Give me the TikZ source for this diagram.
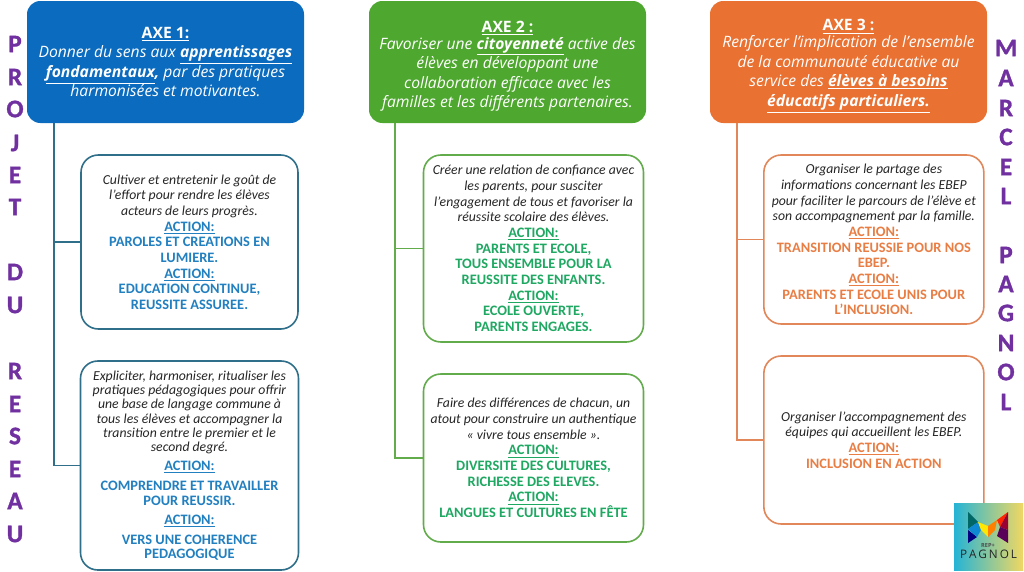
\documentclass[tikz,border=0pt]{standalone}
\usepackage{fontspec}
\setmainfont{Carlito}
\newfontfamily\axefont{Open Sans}
\newfontfamily\sidefont[FakeBold=1.2]{Carlito Bold}
\usetikzlibrary{positioning,calc}
\definecolor{axeblue}{HTML}{0B6CBF}
\definecolor{axegreen}{HTML}{4EA72E}
\definecolor{axeorange}{HTML}{E97132}
\definecolor{lineblue}{HTML}{2F6F8A}
\definecolor{linegreen}{HTML}{62AC4C}
\definecolor{lineorange}{HTML}{E2875A}
\definecolor{actblue}{HTML}{2280C0}
\definecolor{actgreen}{HTML}{1FA862}
\definecolor{actorange}{HTML}{E97E45}
\definecolor{sidepurple}{HTML}{7030A0}
\definecolor{logoleft}{HTML}{25B4D6}
\definecolor{logomid}{HTML}{8CC9A0}
\definecolor{logoright}{HTML}{F0D862}
\newcommand{\actfont}{\bfseries\fontsize{10.8}{11.75}\selectfont}
\newcommand{\actlbl}{\underline{ACTION:}}
\newcommand{\axetop}{\rule{0pt}{14.7pt}}
\begin{document}
\begin{tikzpicture}[
  x=0.75pt, y=-0.75pt,
  node distance=24pt,
  axe/.style={rounded corners=10pt, minimum width=207.75pt, minimum height=91.5pt,
    align=center, text=white, inner sep=0pt, outer sep=0pt,
    font=\axefont\fontsize{11.75}{14.6}\selectfont},
  actbox/.style={draw, line width=1.2pt, rounded corners=13pt, fill=white, align=center,
    inner sep=0pt, outer sep=0pt, text=black!85, font=\fontsize{10.3}{11.75}\selectfont},
  trunk/.style={line width=1.4pt},
  side/.style={text=sidepurple, inner sep=0pt, font=\sidefont\fontsize{19}{19}\selectfont}
]
\useasboundingbox (0,0) rectangle (1024,571);

% axe headers
\node[axe, fill=axeblue, anchor=north west] (axeA) at (27,1)
  {\textbf{\underline{AXE 1:}}\\
   \textit{Donner du sens aux \textbf{\underline{apprentissages}}}\\
   \textit{\textbf{\underline{fondamentaux},} par des pratiques}\\
   \textit{harmonisées et motivantes.}};
\node[axe, fill=axegreen, anchor=north west] (axeB) at (369,1)
  {\axetop\textbf{\underline{AXE 2 :}}\\[-2pt]
   \textit{Favoriser une \textbf{\underline{citoyenneté}} active des}\\
   \textit{élèves en développant une}\\
   \textit{collaboration efficace avec les}\\
   \textit{familles et les différents partenaires.}};
\node[axe, fill=axeorange, anchor=north west] (axeC) at (710,1)
  {\axetop\textbf{\underline{AXE 3 :}}\\[-2pt]
   \textit{Renforcer l’implication de l’ensemble}\\
   \textit{de la communauté éducative au}\\
   \textit{service des \textbf{\underline{élèves à besoins}}}\\
   \textit{\textbf{\underline{éducatifs particuliers.}}}};

% action boxes
\node[actbox, draw=lineblue, minimum width=162.75pt, minimum height=130.5pt,
  below=of axeA, xshift=18pt] (boxAa)
  {\textit{Cultiver et entretenir le goût de}\\
   \textit{l’effort pour rendre les élèves}\\
   \textit{acteurs de leurs progrès.}\\
   \color{actblue}\actfont\actlbl\\
   \color{actblue}\actfont PAROLES ET CREATIONS EN\\
   \color{actblue}\actfont LUMIERE.\\
   \color{actblue}\actfont\actlbl\\
   \color{actblue}\actfont EDUCATION CONTINUE,\\
   \color{actblue}\actfont REUSSITE ASSUREE.};
\node[actbox, draw=lineblue, minimum width=163.5pt, minimum height=156.75pt,
  below=of boxAa] (boxAb)
  {\textit{Expliciter, harmoniser, ritualiser les}\\[-1pt]
   \textit{pratiques pédagogiques pour offrir}\\[-1pt]
   \textit{une base de langage commune à}\\[-1pt]
   \textit{tous les élèves et accompagner la}\\[-1pt]
   \textit{transition entre le premier et le}\\[-1pt]
   \textit{second degré.}\\[2.5pt]
   \color{actblue}\actfont\actlbl\\[3.2pt]
   \color{actblue}\actfont COMPRENDRE ET TRAVAILLER\\[-0.8pt]
   \color{actblue}\actfont POUR REUSSIR.\\[2.5pt]
   \color{actblue}\actfont\actlbl\\[3.2pt]
   \color{actblue}\actfont VERS UNE COHERENCE\\[-0.8pt]
   \color{actblue}\actfont PEDAGOGIQUE};
\node[actbox, draw=linegreen, minimum width=165pt, minimum height=140.25pt,
  below=of axeB, xshift=19.5pt] (boxBa)
  {\textit{Créer une relation de confiance avec}\\
   \textit{les parents, pour susciter}\\
   \textit{l’engagement de tous et favoriser la}\\
   \textit{réussite scolaire des élèves.}\\
   \color{actgreen}\actfont\actlbl\\
   \color{actgreen}\actfont PARENTS ET ECOLE,\\
   \color{actgreen}\actfont TOUS ENSEMBLE POUR LA\\
   \color{actgreen}\actfont REUSSITE DES ENFANTS.\\
   \color{actgreen}\actfont\actlbl\\
   \color{actgreen}\actfont ECOLE OUVERTE,\\
   \color{actgreen}\actfont PARENTS ENGAGES.};
\node[actbox, draw=linegreen, minimum width=165pt, minimum height=126pt,
  below=of boxBa] (boxBb)
  {\textit{Faire des différences de chacun, un}\\
   \textit{atout pour construire un authentique}\\
   \textit{« vivre tous ensemble ».}\\
   \color{actgreen}\actfont\actlbl\\
   \color{actgreen}\actfont DIVERSITE DES CULTURES,\\
   \color{actgreen}\actfont RICHESSE DES ELEVES.\\
   \color{actgreen}\actfont\actlbl\\
   \color{actgreen}\actfont LANGUES ET CULTURES EN FÊTE};
\node[actbox, draw=lineorange, minimum width=165pt, minimum height=126.75pt,
  below=of axeC, xshift=19pt] (boxCa)
  {\textit{Organiser le partage des}\\
   \textit{informations concernant les EBEP}\\
   \textit{pour faciliter le parcours de l’élève et}\\
   \textit{son accompagnement par la famille.}\\
   \color{actorange}\actfont\actlbl\\
   \color{actorange}\actfont TRANSITION REUSSIE POUR NOS\\
   \color{actorange}\actfont EBEP.\\
   \color{actorange}\actfont\actlbl\\
   \color{actorange}\actfont PARENTS ET ECOLE UNIS POUR\\
   \color{actorange}\actfont L’INCLUSION.};
\node[actbox, draw=lineorange, minimum width=165pt, minimum height=126pt,
  below=of boxCa] (boxCb)
  {\textit{Organiser l’accompagnement des}\\
   \textit{équipes qui accueillent les EBEP.}\\
   \color{actorange}\actfont\actlbl\\
   \color{actorange}\actfont INCLUSION EN ACTION};

% trunks
\coordinate (trunkA) at ($(axeA.south west)+(27,0)$);
\coordinate (trunkB) at ($(axeB.south west)+(26,0)$);
\coordinate (trunkC) at ($(axeC.south west)+(27,0)$);
\draw[trunk, lineblue] (trunkA) |- (boxAa.west);
\draw[trunk, lineblue] (trunkA) |- (boxAb.west);
\draw[trunk, linegreen] (trunkB) |- (boxBa.west);
\draw[trunk, linegreen] (trunkB) |- (boxBb.west);
\draw[trunk, lineorange] (trunkC) |- (boxCa.west);
\draw[trunk, lineorange] (trunkC) |- (boxCb.west);

% side letters
\foreach \ltr/\ypos in {P/44,R/77,O/109,J/143,E/175,T/207,D/272,U/305,R/371,E/404,S/436,E/469,A/501,U/534}
  \node[side] at (15,\ypos) {\ltr};
\foreach \ltr/\ypos in {M/48,A/78,R/108,C/137,E/167,L/196,P/255,A/284,G/313,N/343,O/372,L/402}
  \node[side] at (1006,\ypos) {\ltr};

% logo
\node[minimum width=51.75pt, minimum height=50.25pt, inner sep=0pt, outer sep=0pt, anchor=north west,
  left color=logoleft, middle color=logomid, right color=logoright] (logo) at (954,503) {};
\fill[blue!50!black] (968,530) -- (977,537) -- (968,543) -- cycle;
\fill[teal!80!black] (968,512) -- (978,522) -- (968,529) -- cycle;
\fill[cyan!70!blue] (968,529) -- (978,522) -- (981,530) -- (977,537) -- cycle;
\fill[yellow!90!orange] (978,522) -- (988,526) -- (988,537) -- (981,530) -- cycle;
\fill[orange] (988,526) -- (997,520) -- (995,530) -- (988,537) -- cycle;
\fill[red!70!orange] (997,520) -- (1008,512) -- (1000,527) -- cycle;
\fill[purple!80!black] (1008,512) -- (1008,530) -- (1000,527) -- cycle;
\fill[violet!70!black] (1000,527) -- (1008,530) -- (1008,543) -- (997,536) -- cycle;
\node[inner sep=0pt, text=black!70, font=\axefont\bfseries\fontsize{4.2}{5}\selectfont] (logoRep) at (988,545) {REP+};
\node[inner sep=0pt, text=black!85, font=\axefont\fontsize{8.8}{9}\selectfont] (logoName) at (988.5,554.5) {P\,A\,G\,N\,O\,L};
\end{tikzpicture}
\end{document}
